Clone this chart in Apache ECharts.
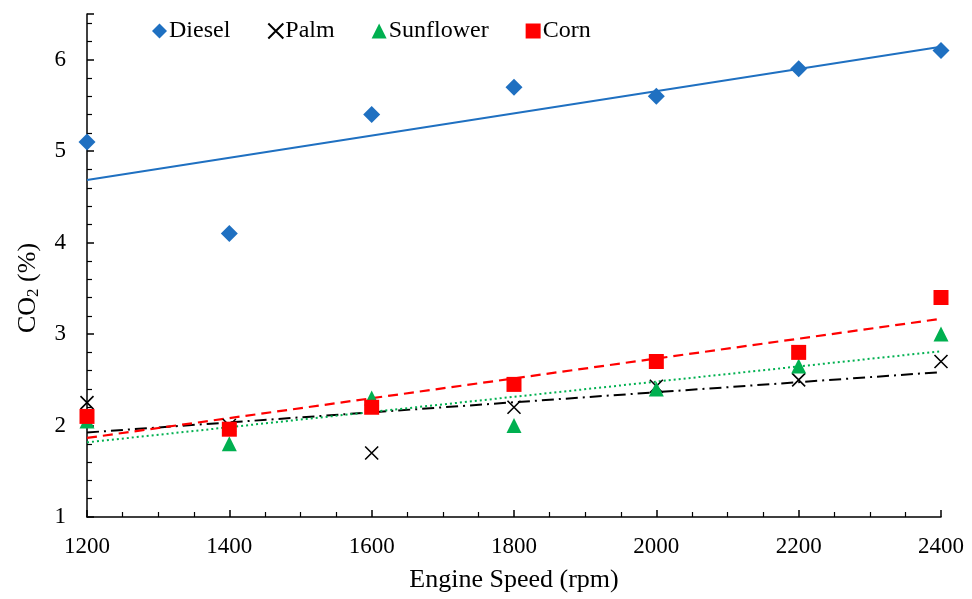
<!DOCTYPE html>
<html>
<head>
<meta charset="utf-8">
<script src="https://cdn.jsdelivr.net/npm/echarts@6/dist/echarts.min.js"></script>
<style>
    html, body {margin: 0; padding: 0; background: #fff;}
    #chart {width: 972px; height: 599px;}
</style>
</head>
<body>
<div id="chart"></div>
<script>
// engine speed (rpm)
const speeds = [1200, 1400, 1600, 1800, 2000, 2200, 2400]

// CO2 (%) per fuel
const diesel = [5.1, 4.1, 5.4, 5.7, 5.6, 5.9, 6.1]
const palm = [2.25, 2.0, 1.7, 2.2, 2.43, 2.5, 2.7]
const sunflower = [2.05, 1.8, 2.3, 2.0, 2.4, 2.65, 3.0]
const corn = [2.1, 1.96, 2.2, 2.45, 2.7, 2.8, 3.4]

const xTicks = [1200, 1400, 1600, 1800, 2000, 2200, 2400]
const yTicks = [1, 2, 3, 4, 5, 6]

const FONT = 'Liberation Serif'

// least squares trend line, evaluated at the two ends of the x range
function trend(xs, ys) {
    const n = xs.length
    const mx = xs.reduce((a, b) => a + b, 0) / n
    const my = ys.reduce((a, b) => a + b, 0) / n
    let sxy = 0, sxx = 0
    for (let i = 0; i < n; i++) {
        sxy += (xs[i] - mx) * (ys[i] - my)
        sxx += (xs[i] - mx) * (xs[i] - mx)
    }
    const k = sxy / sxx
    const lo = xs[0], hi = xs[n - 1]
    return [[lo, my + k * (lo - mx)], [hi, my + k * (hi - mx)]]
}

const pairs = (ys) => speeds.map((x, i) => [x, ys[i]])

const crossPath = 'path://M0,0L10,10M10,0L0,10'

const chart = echarts.init(document.getElementById('chart'))

const scatter = (name, data, symbol, size, color, extra) => Object.assign({
    name: name,
    type: 'scatter',
    data: pairs(data),
    symbol: symbol,
    symbolSize: size,
    itemStyle: {color: color, opacity: 1},
    z: 3
}, extra || {})

const trendLine = (name, data, color, type, width) => ({
    name: name + ' trend',
    type: 'line',
    data: trend(speeds, data),
    showSymbol: false,
    silent: true,
    lineStyle: {color: color, type: type, width: width},
    z: 2
})

const option = {
    animation: false,
    textStyle: {fontFamily: FONT},
    grid: {left: 87, right: 31, top: 14, bottom: 82},
    legend: {
        left: 147,
        top: 14,
        itemWidth: 15,
        itemHeight: 15,
        itemGap: 37,
        data: ['Diesel', 'Palm', 'Sunflower', 'Corn'],
        textStyle: {fontFamily: FONT, fontSize: 24, color: '#000', padding: [0, 0, 0, -3]}
    },
    xAxis: {
        type: 'value',
        min: 1200,
        max: 2400,
        interval: 200,
        name: 'Engine Speed (rpm)',
        nameLocation: 'middle',
        nameGap: 50,
        nameTextStyle: {fontFamily: FONT, fontSize: 26, color: '#000'},
        axisLine: {lineStyle: {color: '#000', width: 1.5}},
        axisTick: {inside: true, length: 7, lineStyle: {color: '#000', width: 1.5}},
        minorTick: {show: true, splitNumber: 4, length: 5, lineStyle: {color: '#000', width: 1.2}},
        splitLine: {show: false},
        axisLabel: {
            fontFamily: FONT, fontSize: 23, color: '#000', margin: 18,
            formatter: v => xTicks.includes(v) ? String(v) : ''
        }
    },
    yAxis: {
        type: 'value',
        min: 1,
        max: 6.5,
        interval: 1,
        axisLine: {show: true, lineStyle: {color: '#000', width: 1.5}},
        axisTick: {show: true, inside: true, length: 7, lineStyle: {color: '#000', width: 1.5}},
        minorTick: {show: true, splitNumber: 5, length: 5, lineStyle: {color: '#000', width: 1.2}},
        splitLine: {show: false},
        axisLabel: {
            fontFamily: FONT, fontSize: 23, color: '#000', margin: 21,
            showMaxLabel: false,
            formatter: v => yTicks.includes(v) ? String(v) : ''
        }
    },
    graphic: [{
        type: 'text',
        x: 28,
        y: 288,
        rotation: Math.PI / 2,
        style: {
            text: '{a|CO}{s|2}{a| (%)}',
            align: 'center',
            verticalAlign: 'middle',
            fill: '#000',
            rich: {
                a: {fontFamily: FONT, fontSize: 26, lineHeight: 32, fill: '#000'},
                s: {fontFamily: FONT, fontSize: 17, lineHeight: 32, fill: '#000', padding: [12, 0, 0, 0]}
            }
        }
    }],
    series: [
        trendLine('Diesel', diesel, '#1F70C1', 'solid', 2),
        trendLine('Palm', palm, '#000', [12, 5, 2, 5], 2),
        trendLine('Sunflower', sunflower, '#00B050', [2, 3], 2),
        trendLine('Corn', corn, '#FF0000', [10, 6], 2.2),
        scatter('Diesel', diesel, 'diamond', 17, '#1F70C1'),
        scatter('Palm', palm, crossPath, 13, '#000', {
            itemStyle: {color: 'rgba(0,0,0,0)', borderColor: '#000', borderWidth: 1.6, opacity: 1}
        }),
        scatter('Sunflower', sunflower, 'triangle', 15, '#00B050'),
        scatter('Corn', corn, 'rect', 15, '#FF0000')
    ]
}

chart.setOption(option)
</script>
</body>
</html>
